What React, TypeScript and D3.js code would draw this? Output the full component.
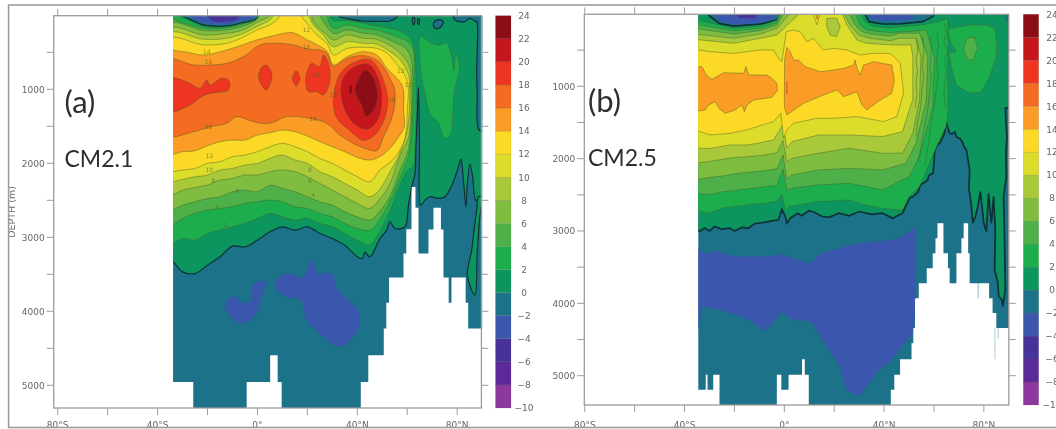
import React from "react";
import * as d3 from "d3";

type Pt = [number, number];

const bandFloors = [-10, -8, -6, -4, -2, 0, 2, 4, 6, 8, 10, 12, 14, 16, 18, 20, 22];
const bandColors = ["#8d389f", "#5c2a98", "#46319a", "#3b57ad", "#1f7389", "#119560", "#1fae4d", "#4eb04a", "#7ebd41", "#a9c93a", "#dcdc2c", "#fbd925", "#fa9c27", "#f36c21", "#ee3524", "#c4161f", "#8c0a18"];
const barLabels = [24, 22, 20, 18, 16, 14, 12, 10, 8, 6, 4, 2, 0, -2, -4, -6, -8, -10];
const latTicks = [-80, -60, -40, -20, 0, 20, 40, 60, 80];
const latLabels: [number, string][] = [[-80, "80°S"], [-40, "40°S"], [0, "0°"], [40, "40°N"], [80, "80°N"]];
const depthTicks = [500, 1000, 1500, 2000, 2500, 3000, 3500, 4000, 4500, 5000];
const depthLabels = [1000, 2000, 3000, 4000, 5000];

/* ---------- panel (a) CM2.1 ---------- */
const aBathyEdges = [-33.8, -25.7, -4.3, 5.1, 8.1, 9.7, 41.4, 44.4, 50.6, 51.6, 52.7, 58.5, 59.6, 61.7, 63.3, 64.5, 68.5, 70.5, 73.5, 74.5, 76.6, 77.7, 83.4, 84.4, 90];
const aBathyDepths = [4955, 5400, 4955, 4595, 4955, 5400, 4955, 4595, 4233, 3886, 3544, 3219, 2890, 2321, 2600, 3219, 2894, 2600, 2894, 3544, 3886, 3544, 3886, 4233];

const aDeep1: Pt[] = [[-12.8, 3890], [-9.5, 3800], [-5.5, 3890], [-2.5, 3850], [-1.8, 3640], [3, 3600], [1.6, 3800], [-0.4, 4030], [-6.6, 4160], [-10.7, 4070], [-12.8, 3960]];
const aDeep2: Pt[] = [[7.2, 3620], [11.3, 3490], [18.2, 3535], [21.6, 3310], [24.4, 3490], [30, 3490], [31.3, 3660], [34.8, 3800], [40.3, 3985], [40.3, 4250], [32.7, 4480], [26.5, 4340], [19.6, 4110], [17.5, 3850], [11.3, 3800], [7.2, 3690]];

const a0Main: Pt[] = [[-36, -60], [92, -60], [92, 2450], [89.5, 2450], [87.5, 2500], [86.2, 2182], [85.1, 2011], [84.1, 2272], [83.5, 2588], [82.5, 2227], [81.5, 1943], [80.5, 2047], [78.2, 2272], [75.1, 2452], [72.5, 2475], [69.1, 2452], [67.1, 2498], [65.4, 2565], [64.9, 1731], [64.5, 973], [64.1, 1280], [63.5, 1731], [63.1, 2137], [61.8, 2317], [60.4, 2588], [59.1, 2858], [55.1, 2881], [53.1, 2791], [51.8, 2903], [49.1, 3016], [45, 3264], [43, 3200], [42, 3290], [40, 3264], [35, 3106], [30, 3016], [25, 2948], [20, 2858], [15, 2903], [10, 2858], [5, 2926], [0, 3038], [-5, 3129], [-10, 3120], [-15, 3264], [-20, 3377], [-25, 3490], [-30, 3467], [-33.8, 3332], [-36, 3300]];
const a0Sliver: Pt[] = [[88.5, 2452], [87.8, 2633], [86.9, 2858], [85.8, 3174], [84.1, 3512], [87.1, 3783], [88, 3219], [88.8, 2813], [89.6, 2452]];
const aTopLeftTeal: Pt[] = [[-31, -60], [-29.7, 8], [-25, 85], [-21.6, 130], [-12.3, 143], [-6, 100], [-0.3, 40], [0, -60]];
const aTopLeftBlue: Pt[] = [[-28.5, -60], [-26, 35], [-21, 105], [-13, 120], [-6, 75], [-1.2, 25], [-0.8, -60]];
const aTopLeftPurple: Pt[] = [[-21, -60], [-18, 75], [-12, 85], [-8, 55], [-7, -60]];
const aTopRightTeal: Pt[] = [[31.3, -60], [33, 20], [36, 45], [43, 80], [49, 80], [52.7, 80], [55.4, 40], [56.8, -60]];
const aTopTick1: Pt[] = [[62.2, 30], [62.9, 30], [62.8, 120], [62.3, 120]];
const aTopTick2: Pt[] = [[64.2, 50], [64.8, 50], [64.7, 120], [64.3, 120]];
const aTopCircle: Pt[] = [[70.5, 110], [72, 62], [74, 70], [74.4, 110], [72.5, 175], [70.8, 165]];
const aTopCorner: Pt[] = [[78.5, -60], [79.1, 62], [83.1, 85], [85.1, 40], [87, 75], [87.8, 85], [88, 500], [87.8, 694], [88, 1055], [88.8, 1550], [92, 1550], [92, -60]];
const a2Patch: Pt[] = [[65.4, 288], [69.8, 378], [73.1, 400], [75.8, 378], [77.8, 558], [78.7, 739], [79.5, 513], [80.9, 694], [78.7, 1055], [78.2, 1370], [77.4, 1596], [75.1, 1663], [72.5, 1460], [69.1, 1325], [67.1, 1055], [65.8, 829]];
const a2: Pt[] = [[-36, 10], [-30, 35], [-25, 105], [-21.6, 150], [-12.3, 155], [-6, 110], [-0.3, 45], [0.5, -60], [27, -60], [30.4, 70], [36, 70], [42.4, 107], [47.8, 143], [55.8, 198], [59.5, 260], [61.8, 350], [63, 500], [63.5, 1000], [63.2, 1730], [62.2, 2047], [60, 2100], [57, 2300], [53, 2650], [50, 2850], [48, 2980], [45, 3106], [40, 3038], [35, 2948], [30, 2858], [25, 2813], [20, 2745], [15, 2768], [10, 2723], [5, 2678], [0, 2745], [-5, 2813], [-10, 2858], [-15, 2903], [-20, 2948], [-25, 3038], [-30, 3016], [-34, 3084], [-36, 3100]];
const a4: Pt[] = [[-36, 60], [-30, 100], [-21.6, 175], [-12.3, 170], [-6, 120], [-0.3, 50], [1.5, -60], [26, -60], [30.4, 175], [36, 130], [42.4, 175], [47.8, 198], [55.8, 288], [60, 350], [62.3, 450], [62.5, 1000], [61.5, 1700], [60.5, 1900], [57, 2200], [53, 2520], [49, 2760], [45, 2903], [40, 2881], [35, 2813], [30, 2723], [25, 2678], [20, 2610], [15, 2588], [10, 2520], [5, 2497], [0, 2520], [-5, 2542], [-10, 2588], [-15, 2610], [-20, 2633], [-25, 2678], [-30, 2745], [-34, 2836], [-36, 2860]];
const a6: Pt[] = [[-36, 125], [-21.6, 206], [-12.3, 198], [-6, 150], [-0.3, 62], [3, -60], [23.5, -60], [26, 60], [30.4, 243], [36, 198], [42.4, 243], [47.8, 265], [55.8, 378], [59.5, 450], [61.6, 600], [62, 1000], [60.5, 1800], [57, 2100], [53, 2450], [49, 2650], [45, 2768], [40, 2723], [35, 2655], [30, 2565], [25, 2520], [20, 2452], [15, 2385], [10, 2339], [5, 2294], [0, 2385], [-5, 2362], [-10, 2385], [-15, 2452], [-20, 2475], [-25, 2520], [-30, 2565], [-34, 2633], [-36, 2650]];
const a8: Pt[] = [[-36, 189], [-21.6, 265], [-12.3, 243], [-6, 200], [-0.3, 98], [5, 10], [7, -60], [21, -60], [22, 60], [24, 160], [27, 240], [30.4, 333], [36, 265], [42.4, 310], [47.8, 324], [55.8, 468], [58.5, 560], [61, 700], [61.5, 1000], [60.5, 1650], [57, 1900], [53, 2280], [49, 2480], [45, 2610], [40, 2542], [35, 2452], [30, 2362], [25, 2272], [20, 2182], [15, 2114], [10, 2091], [5, 2114], [0, 2159], [-5, 2159], [-10, 2204], [-15, 2227], [-20, 2294], [-25, 2326], [-30, 2362], [-34, 2430], [-36, 2450]];
const a10: Pt[] = [[-36, 252], [-21.6, 324], [-12.3, 310], [-6, 250], [-0.3, 153], [5, 62], [8, -60], [19, -60], [22.4, 130], [26.4, 265], [30.4, 423], [36, 355], [42.4, 378], [47.8, 391], [55.8, 558], [58, 640], [60.5, 800], [61, 1000], [60, 1550], [56.5, 1900], [53, 2120], [49, 2350], [45, 2452], [40, 2362], [35, 2272], [30, 2182], [25, 2114], [20, 2001], [15, 1956], [10, 1888], [5, 1934], [0, 2001], [-5, 2024], [-10, 2069], [-15, 2091], [-20, 2159], [-25, 2182], [-30, 2218], [-34, 2249], [-36, 2260]];
const a12: Pt[] = [[-36, 324], [-21.6, 400], [-12.3, 378], [-6, 300], [-0.3, 198], [5, 130], [9, 17], [10, -60], [17, -60], [17.7, 17], [20.4, 130], [23.8, 265], [27.8, 378], [30.4, 536], [36, 446], [42.4, 432], [47.8, 446], [52, 513], [56, 671], [59, 806], [60.4, 964], [60, 1300], [59.8, 1505], [58.4, 1731], [54, 1960], [49, 2092], [45, 2249], [40, 2182], [35, 2091], [30, 2001], [25, 1934], [20, 1843], [15, 1776], [10, 1731], [5, 1776], [0, 1843], [-5, 1888], [-10, 1911], [-15, 1979], [-20, 2001], [-25, 2069], [-30, 2091], [-34, 2114], [-36, 2125]];
const a14: Pt[] = [[-36, 500], [-30, 490], [-21.6, 536], [-12.3, 468], [-6, 400], [-0.3, 333], [6, 279], [14, 234], [20, 333], [24, 400], [28, 491], [30.4, 671], [36, 558], [42.4, 491], [47.8, 536], [51.8, 716], [57, 897], [58.5, 1009], [58.5, 1280], [58.8, 1505], [56.4, 1650], [53, 1800], [49, 1911], [45, 1956], [40, 1920], [35, 1843], [30, 1776], [25, 1708], [20, 1631], [15, 1573], [10, 1550], [5, 1586], [0, 1618], [-5, 1686], [-10, 1686], [-15, 1708], [-20, 1762], [-25, 1830], [-30, 1843], [-36, 1870]];
const a16: Pt[] = [[-36, 603], [-25.6, 671], [-19, 671], [-12.3, 649], [-5.6, 558], [1, 400], [7.7, 378], [14.4, 400], [20.4, 459], [25, 468], [27.8, 513], [30.4, 694], [33.8, 626], [37, 572], [42.4, 545], [47.8, 604], [50.5, 700], [53.5, 880], [55, 1000], [54.8, 1250], [53.5, 1420], [50.5, 1640], [47.8, 1830], [43.8, 1805], [38.4, 1731], [33, 1618], [27.8, 1460], [21, 1393], [11.7, 1370], [5, 1460], [-1.6, 1438], [-8.3, 1370], [-12.3, 1460], [-19, 1506], [-25.6, 1573], [-36, 1618]];
const a18Left: Pt[] = [[-36, 852], [-28.3, 897], [-23, 987], [-20.3, 874], [-19, 942], [-14.3, 852], [-11.4, 883], [-11.6, 1009], [-19, 1055], [-23, 1109], [-27, 1212], [-36, 1303]];
const a18Mid1: Pt[] = [[3.5, 671], [5.7, 784], [5, 942], [3.5, 1009], [1, 897], [0.4, 829], [1.7, 703]];
const a18Mid2: Pt[] = [[15.5, 748], [17, 852], [15.5, 955], [14, 852]];
const a18Mid3: Pt[] = [[21.7, 649], [24.8, 694], [26.4, 536], [28.4, 649], [29.1, 874], [26.4, 1077], [23.8, 1032], [20.4, 1032], [19.3, 874], [20.4, 716]];
const a18Blob: Pt[] = [[30.5, 1235], [31.5, 919], [34.4, 739], [39.8, 620], [45.1, 600], [49, 760], [52, 1080], [51.5, 1330], [47.5, 1600], [42.4, 1690], [37.1, 1560], [32, 1400]];
const a20Blob: Pt[] = [[33.6, 1100], [34.2, 860], [38.4, 705], [44.4, 660], [48, 820], [49.8, 1100], [48, 1420], [43.8, 1540], [37.6, 1425]];
const a22Blob: Pt[] = [[43.1, 739], [46.5, 852], [48, 1100], [46.5, 1280], [43.5, 1361], [41.8, 1212], [39.1, 1032], [40.4, 874]];
const a22Dot: Pt[] = [[37, 950], [37.7, 950], [37.7, 1060], [37, 1060]];
const aLabels: [number, number, string][] = [[-20.3, 504, "14"], [-19.6, 635, "16"], [19.7, 432, "16"], [-19.6, 1515, "16"], [22.4, 1406, "16"], [-19.2, 1911, "12"], [19.7, 198, "12"], [30.4, 1077, "18"], [23.3, 806, "18"], [-19.3, 2091, "10"], [-17.7, 2240, "8"], [-8, 2385, "6"], [-16, 2597, "4"], [-12.8, 2845, "2"], [21, 2091, "8"], [21, 2250, "6"], [22.3, 2430, "4"], [57.4, 761, "12"], [53.8, 1145, "18"], [60.4, 942, "12"]];

/* ---------- panel (b) CM2.5 ---------- */
const bBathyEdges = [-34.5, -31.5, -30.8, -28.5, -26, -3, -1.2, 1.7, 7.1, 8.2, 9.8, 42.7, 44.1, 46.4, 51, 51.7, 52.4, 53.9, 57.1, 59.5, 60.6, 61.4, 63.8, 65.6, 66.3, 69, 71, 71.9, 73.7, 74.3, 82.1, 83.5, 85, 90];
const bBathyDepths = [5194, 4987, 5194, 4987, 5500, 4987, 5194, 4987, 4771, 4987, 5500, 5194, 4987, 4771, 4550, 4342, 3928, 3721, 3514, 3307, 3100, 2892, 3307, 3514, 3721, 3307, 3100, 2892, 3307, 3721, 3928, 4135, 4342];
const bFaintLats: Pt[] = [[66.4, 68.8], [77.5, 77.9], [84.3, 84.6], [85.6, 85.9]];
const bFaintDepths: Pt[] = [[3514, 3721], [3721, 3928], [4342, 4771], [4342, 4480]];

const bDeep: Pt[] = [[-36, 3238], [-34.5, 3238], [-31.9, 3307], [-26.5, 3284], [-21.1, 3353], [-14.4, 3353], [-7.7, 3353], [-0.9, 3330], [3.1, 3376], [9.8, 3445], [15.2, 3307], [21.9, 3238], [30, 3168], [38, 3145], [46.1, 3099], [52.8, 2938], [52.8, 4000], [51.5, 4412], [46.1, 4642], [42.7, 4800], [38, 4918], [34, 5102], [30, 5286], [25, 5194], [21.9, 4849], [15.2, 4504], [11, 4250], [3.1, 4227], [-0.9, 4112], [-7.7, 4389], [-14.4, 4227], [-21.1, 4135], [-26.5, 4089], [-33, 4043], [-34.5, 4366], [-36, 4366]];
const b0Main: Pt[] = [[-36, -60], [92, -60], [92, 1280], [88.6, 1304], [89.2, 1700], [88.8, 1980], [89, 2248], [87.9, 2524], [88.3, 3169], [88.6, 3813], [87.6, 4043], [87.2, 3950], [86, 3905], [85.5, 3700], [84.3, 3537], [84.6, 3000], [83.9, 2524], [83, 2893], [81.9, 2478], [81, 3008], [80, 2893], [78.6, 2455], [77.6, 2660], [76.6, 2800], [75.6, 2893], [75, 2660], [74.4, 2500], [74, 2432], [74.3, 2150], [73, 1880], [72, 1830], [71.4, 1770], [70.3, 1720], [69, 1700], [68.4, 1630], [67.2, 1660], [66.3, 1650], [65.4, 1560], [64.9, 1488], [64.2, 1650], [63.3, 1720], [62.3, 1788], [61.6, 1800], [60.3, 1880], [60, 2060], [59.6, 2200], [58, 2230], [57.4, 2300], [55.6, 2340], [54.6, 2360], [53.6, 2460], [51.6, 2524], [50.4, 2540], [48.9, 2640], [47.4, 2754], [43.4, 2823], [39.4, 2754], [35, 2770], [30, 2731], [26, 2790], [21.9, 2754], [18, 2810], [15.2, 2800], [12, 2740], [9.8, 2720], [7, 2790], [5.4, 2754], [2.5, 2820], [1, 2892], [0.4, 2800], [-1, 2700], [-2.3, 2846], [-5, 2860], [-8, 2880], [-12, 2900], [-14.4, 2960], [-17, 2950], [-20, 3000], [-22, 2960], [-25, 2975], [-28, 2938], [-30, 3000], [-32, 2960], [-34, 3007], [-36, 2938]];
const bTopLeftTeal: Pt[] = [[-32, -60], [-30, 29], [-26, 130], [-20.3, 167], [-9.6, 139], [-3.5, 90], [-1.5, 29], [-1.2, -60]];
const bTopLeftBlue: Pt[] = [[-29.5, -60], [-26, 100], [-20.3, 150], [-9.6, 125], [-4, 65], [-2.5, -60]];
const bTopLeftPurple: Pt[] = [[-20.3, -60], [-18, 60], [-12, 60], [-8, -60]];
const bTopRightTeal: Pt[] = [[31.3, -60], [34, 107], [39.4, 139], [46.1, 139], [55.5, 107], [59.5, 38], [61.6, -60]];
const bTopRightBlue: Pt[] = [[32.7, -60], [34.8, 70], [40.8, 100], [51.5, 85], [52.8, -60]];
const bTopCorner: Pt[] = [[88.5, -60], [89, 107], [92, 107], [92, -60]];
const b2: Pt[] = [[-36, 75], [-20.3, 199], [-9.6, 167], [-3, 84], [-1.6, -60], [29.8, -60], [32.4, 107], [35.1, 167], [42.5, 199], [46.1, 176], [55.5, 153], [61.6, 107], [65.6, 60], [65.6, 590], [65.6, 1373], [64.9, 1550], [62.2, 1741], [58.2, 2064], [54.2, 2386], [50.1, 2524], [47.4, 2708], [44.8, 2708], [39.4, 2685], [32, 2640], [25.9, 2570], [13.8, 2593], [1.7, 2662], [0.5, 2720], [-1, 2500], [-3, 2593], [-8, 2616], [-15, 2639], [-20, 2662], [-25, 2685], [-30, 2754], [-36, 2708]];
const b2Patch: Pt[] = [[65.6, 107], [66.3, 199], [74.3, 153], [81, 153], [84.3, 199], [85.2, 406], [85, 591], [82.3, 867], [79, 1074], [74.3, 1097], [68.9, 982], [66.9, 729], [66, 545], [68.9, 522], [66.9, 406], [65.6, 268]];
const b4Patch: Pt[] = [[72.9, 337], [76.3, 323], [77.6, 475], [75.6, 637], [73.6, 637], [71.9, 498]];
const b4: Pt[] = [[-36, 139], [-20.3, 231], [-9.6, 199], [-3, 121], [-0.6, -60], [27.8, -60], [30.4, 153], [33.1, 222], [42.5, 259], [46.1, 250], [53, 235], [56.9, 222], [60.2, 590], [59.5, 1281], [54.2, 1971], [50.1, 2248], [39.4, 2432], [25.9, 2340], [13.8, 2363], [3.1, 2409], [1, 2440], [-0.5, 2150], [-3, 2370], [-8, 2390], [-15, 2420], [-20, 2440], [-25, 2460], [-30, 2500], [-36, 2478]];
const b6: Pt[] = [[-36, 199], [-20.3, 277], [-9.6, 231], [-3, 153], [0.7, -60], [25.1, -60], [28.4, 153], [31.1, 245], [34.4, 277], [42.5, 305], [46.1, 268], [54.2, 268], [57.5, 590], [56.9, 1189], [52.8, 1787], [48.8, 2064], [39.4, 2156], [25.9, 2133], [13.8, 2156], [3.1, 2225], [1, 2280], [-0.5, 1950], [-3, 2140], [-8, 2165], [-15, 2190], [-20, 2210], [-25, 2240], [-30, 2260], [-36, 2294]];
const b8: Pt[] = [[-36, 277], [-20.3, 337], [-9.6, 277], [-3, 199], [3.7, -60], [23.1, -60], [26.4, 153], [29.8, 291], [34.4, 337], [42.5, 370], [46.1, 337], [52.8, 337], [54.8, 590], [54.2, 1189], [51.5, 1649], [47.4, 1925], [39.4, 1925], [25.9, 1856], [13.8, 1925], [3.1, 1994], [1, 2050], [-0.5, 1750], [-3, 1920], [-8, 1950], [-15, 1975], [-20, 1985], [-25, 2010], [-30, 2040], [-36, 2064]];
const b10: Pt[] = [[-36, 351], [-20.3, 406], [-9.6, 337], [-3, 291], [2, 130], [7.7, -60], [22.4, -60], [25.1, 153], [29.1, 360], [33.1, 406], [42.5, 429], [46.1, 429], [50.8, 429], [51.5, 590], [51.5, 1189], [50.1, 1327], [47.4, 1626], [39.4, 1695], [25.9, 1672], [13.8, 1672], [3.1, 1764], [1, 1850], [-0.5, 1530], [-4.3, 1740], [-11, 1790], [-15, 1810], [-21.7, 1810], [-29.7, 1860], [-36, 1856]];
const b8Patch: Pt[] = [[17, 60], [21, 60], [22.4, 176], [21, 314], [18.4, 291], [17, 176]];
const b12Top: Pt[] = [[11, -60], [13, 150], [15, -60]];
const b14Top: Pt[] = [[12, -60], [13.1, 75], [14.3, -60]];
const b12: Pt[] = [[-36, 489], [-29.7, 522], [-20.3, 545], [-9.6, 498], [-4.3, 498], [-1.9, 637], [-1, 660], [0.1, 406], [0.8, 245], [3.7, 222], [6.4, 245], [9, 383], [11.7, 337], [15.7, 498], [19.8, 475], [25.1, 498], [30.4, 568], [35.8, 545], [42.5, 545], [46.5, 683], [47.8, 1097], [45.1, 1419], [39.8, 1488], [29.1, 1419], [19.8, 1442], [13.1, 1442], [3.7, 1511], [1, 1603], [-0.3, 1718], [-1.4, 1373], [-4.3, 1488], [-11, 1557], [-15, 1603], [-21.7, 1650], [-29.7, 1673], [-36, 1603]];
const b14Left: Pt[] = [[-36, 738], [-33, 729], [-31.3, 844], [-29, 904], [-24.3, 812], [-16.3, 821], [-15.4, 729], [-14.3, 844], [-7, 844], [-5, 890], [-3, 959], [-2.7, 1051], [-5, 1152], [-12.3, 1189], [-15, 1258], [-16, 1350], [-17, 1258], [-19.7, 1327], [-23.7, 1373], [-26.3, 1304], [-27.7, 1212], [-30.4, 1258], [-31.7, 1327], [-36, 1350]];
const b14Right: Pt[] = [[0.1, 637], [1, 462], [2.4, 522], [3.7, 637], [5.7, 637], [8.4, 729], [14.4, 798], [19.8, 775], [23.8, 752], [27.8, 706], [28.4, 637], [29.1, 752], [30.4, 844], [31.8, 706], [35.8, 660], [39.1, 683], [43.1, 706], [44.1, 913], [43.1, 1097], [38.5, 1189], [33.1, 1327], [31.1, 1258], [29.1, 1074], [25.8, 1120], [23.8, 1143], [21.1, 1051], [15.7, 1120], [7.7, 1235], [1, 1396], [0, 1281]];
const b16Dot: Pt[] = [[0.6, 930], [1.4, 930], [1.4, 1110], [0.6, 1110]];
const bLabels: [number, number, string][] = [];

const toothLines: Pt[][] = [
  [[53, 340], [53.5, 500], [52.8, 640], [53.4, 800], [52.8, 960], [53.2, 1100], [52.5, 1300]],
  [[55.4, 320], [56, 520], [55.3, 700], [55.9, 880], [55.2, 1060], [54.6, 1300], [53.4, 1500], [52.8, 1700]],
  [[58.6, 320], [59, 500], [58.4, 720], [59, 900], [58.2, 1120], [57.4, 1360], [56.2, 1560], [55, 1800], [53.6, 2050]],
  [[61.2, 240], [61.8, 440], [61, 640], [61.7, 860], [60.8, 1080], [60, 1300], [58.8, 1550], [57.8, 1800], [56.4, 2100]],
  [[64, 120], [65.2, 260], [63.8, 400], [65.6, 500], [64.4, 620], [65, 820], [64, 1080], [64.6, 1320]],
];

type Layer = { ring: Pt[]; floor: number; strong?: boolean; dash?: boolean; none?: boolean };

const aLayers: Layer[] = [
  { ring: aDeep1, floor: -4, dash: true }, { ring: aDeep2, floor: -4, dash: true },
  { ring: a0Main, floor: 0, strong: true }, { ring: a0Sliver, floor: 0, strong: true },
  { ring: aTopLeftTeal, floor: -2, strong: true }, { ring: aTopLeftBlue, floor: -4, none: true }, { ring: aTopLeftPurple, floor: -6, none: true },
  { ring: aTopRightTeal, floor: -2, strong: true }, { ring: aTopTick1, floor: -2, strong: true }, { ring: aTopTick2, floor: -2, strong: true },
  { ring: aTopCircle, floor: -2, strong: true }, { ring: aTopCorner, floor: -2, strong: true },
  { ring: a2Patch, floor: 2 }, { ring: a2, floor: 2 }, { ring: a4, floor: 4 }, { ring: a6, floor: 6 }, { ring: a8, floor: 8 },
  { ring: a10, floor: 10 }, { ring: a12, floor: 12 }, { ring: a14, floor: 14 }, { ring: a16, floor: 16 },
  { ring: a18Left, floor: 18 }, { ring: a18Mid1, floor: 18 }, { ring: a18Mid2, floor: 18 }, { ring: a18Mid3, floor: 18 }, { ring: a18Blob, floor: 18 },
  { ring: a20Blob, floor: 20 }, { ring: a22Blob, floor: 22 }, { ring: a22Dot, floor: 22, none: true },
];

const bLayers: Layer[] = [
  { ring: bDeep, floor: -4, dash: true },
  { ring: b0Main, floor: 0, strong: true },
  { ring: bTopLeftTeal, floor: -2, strong: true }, { ring: bTopLeftBlue, floor: -4, none: true }, { ring: bTopLeftPurple, floor: -6, none: true },
  { ring: bTopRightTeal, floor: -2, strong: true }, { ring: bTopRightBlue, floor: -4, none: true }, { ring: bTopCorner, floor: -2 },
  { ring: b2Patch, floor: 2 }, { ring: b4Patch, floor: 4 }, { ring: b2, floor: 2 }, { ring: b4, floor: 4 }, { ring: b6, floor: 6 }, { ring: b8, floor: 8 },
  { ring: b10, floor: 10 }, { ring: b8Patch, floor: 8 }, { ring: b12, floor: 12 }, { ring: b12Top, floor: 12 }, { ring: b14Top, floor: 14 }, { ring: b14Left, floor: 14 }, { ring: b14Right, floor: 14 },
  { ring: b16Dot, floor: 16, none: true },
];

const colorOf = d3.scaleOrdinal<number, string>().domain(bandFloors).range(bandColors);
const GREY = "#9c9c9c";
const TXT = "#666666";
const SANS = "'DejaVu Sans', sans-serif";
const TITLE = "Lato, 'Open Sans', sans-serif";

type PanelProps = {
  id: string; latDomain: [number, number]; xRange: [number, number]; depthDomain: [number, number]; yRange: [number, number];
  edges: number[]; depths: number[]; layers: Layer[]; labels: [number, number, string][]; smooth: boolean; teeth?: Pt[][];
  faintLats?: Pt[]; faintDepths?: Pt[]; lineW: number;
  tag: string; model: string; tagX: number; tagY: number; modelY: number; barX: number; barW: number; barLabelX: number;
};

function Panel(p: PanelProps) {
  const x = d3.scaleLinear().domain(p.latDomain).range(p.xRange);
  const y = d3.scaleLinear().domain(p.depthDomain).range(p.yRange);
  const bar = d3.scaleLinear().domain([-10, 24]).range([p.yRange[1], p.yRange[0]]);
  const ringPath = d3.line<Pt>().x((d) => x(d[0])).y((d) => y(d[1]))
    .curve(p.smooth ? d3.curveCatmullRomClosed.alpha(0.5) : d3.curveLinearClosed);
  const openPath = d3.line<Pt>().x((d) => x(d[0])).y((d) => y(d[1]));
  const ocean: Pt[] = [[p.edges[0], p.depthDomain[0]], [p.edges[p.edges.length - 1], p.depthDomain[0]]];
  for (let i = p.depths.length - 1; i >= 0; i--) {
    const dep = Math.min(p.depths[i], p.depthDomain[1]);
    ocean.push([p.edges[i + 1], dep], [p.edges[i], dep]);
  }
  const oceanPath = d3.line<Pt>().x((d) => x(d[0])).y((d) => y(d[1])).curve(d3.curveLinearClosed)(ocean) || "";
  const [x0, x1] = p.xRange;
  const [y0, y1] = p.yRange;
  return (
    <g>
      <defs>
        <clipPath id={`ocean-${p.id}`}><path d={oceanPath} /></clipPath>
      </defs>
      <path d={oceanPath} fill={colorOf(-2)} />
      {(p.faintLats || []).map((la, i) => (
        <rect key={i} x={x(la[0])} width={x(la[1]) - x(la[0])} y={y(p.faintDepths![i][0])} height={y(p.faintDepths![i][1]) - y(p.faintDepths![i][0])} fill={colorOf(-2)} fillOpacity={0.5} />
      ))}
      <g clipPath={`url(#ocean-${p.id})`}>
        {p.layers.map((l, i) => (
          <path key={i} d={ringPath(l.ring) || ""} fill={colorOf(l.floor)}
            stroke={l.none ? "none" : l.strong ? "#082c30" : l.dash ? "#33559a" : "#3f5a25"}
            strokeOpacity={l.strong ? 0.95 : 0.6} strokeWidth={l.strong ? p.lineW : 0.7}
            strokeDasharray={l.dash ? "1.5 1.5" : undefined} />
        ))}
        {(p.teeth || []).map((t, i) => (
          <path key={i} d={openPath(t) || ""} fill="none" stroke="#2f5a28" strokeOpacity={0.55} strokeWidth={0.8} />
        ))}
        {p.labels.map(([la, de, s], i) => (
          <text key={i} x={x(la)} y={y(de)} fontFamily={SANS} fontSize={6} fill="#4a5a20" fillOpacity={0.6}
            textAnchor="middle" dominantBaseline="middle">{s}</text>
        ))}
      </g>
      <rect x={x0} y={y0} width={x1 - x0} height={y1 - y0} fill="none" stroke={GREY} strokeWidth={1.3} />
      {latTicks.map((t) => (
        <g key={t} stroke={GREY} strokeWidth={1}>
          <line x1={x(t)} x2={x(t)} y1={y0} y2={y0 - 7} />
          <line x1={x(t)} x2={x(t)} y1={y1} y2={y1 + 7} />
        </g>
      ))}
      {depthTicks.map((t) => (
        <g key={t} stroke={GREY} strokeWidth={1}>
          <line x1={x0} x2={x0 - 7} y1={y(t)} y2={y(t)} />
          <line x1={x1} x2={x1 + 7} y1={y(t)} y2={y(t)} />
        </g>
      ))}
      {latLabels.map(([t, s]) => (
        <text key={t} x={x(t)} y={427.5} textAnchor="middle" fontFamily={SANS} fontSize={9} fill={TXT}>{s}</text>
      ))}
      {depthLabels.map((t) => (
        <text key={t} x={x0 - 9} y={y(t) + 3.3} textAnchor="end" fontFamily={SANS} fontSize={9} fill={TXT}>{t}</text>
      ))}
      {bandFloors.map((f) => (
        <rect key={f} x={p.barX} width={p.barW} y={bar(f + 2)} height={bar(f) - bar(f + 2)} fill={colorOf(f)} stroke="#4d4d2f" strokeOpacity={0.22} strokeWidth={0.6} />
      ))}
      {barLabels.map((t) => (
        <text key={t} x={p.barLabelX} y={bar(t) + 3.3} textAnchor="middle" fontFamily={SANS} fontSize={9} fill={TXT}>{t < 0 ? `\u2212${-t}` : t}</text>
      ))}
      <text x={p.tagX} y={p.tagY} fontFamily={TITLE} fontSize={31} fill="#2e2e2e">{p.tag}</text>
      <text x={p.tagX} y={p.modelY} fontFamily={TITLE} fontSize={23} fill="#2e2e2e">{p.model}</text>
    </g>
  );
}

export default function App() {
  return (
    <svg width={1056} height={429} viewBox="0 0 1056 429" style={{ position: "absolute", left: 0, top: 0, display: "block", background: "#fff" }}>
      <defs>
        <clipPath id="frame-clip"><rect x={8.6} y={5} width={1048} height={423} /></clipPath>
        <filter id="soft" x="0" y="0" width="100%" height="100%"><feGaussianBlur stdDeviation={0.45} /></filter>
      </defs>
      <g filter="url(#soft)">
        <g clipPath="url(#frame-clip)">
          <text transform="translate(15,212) rotate(-90)" textAnchor="middle" fontFamily={SANS} fontSize={9.5} fill={TXT}>DEPTH (m)</text>
        </g>
        <Panel id="a" latDomain={[-81.6, 89.7]} xRange={[53.7, 481.4]} depthDomain={[5, 5307]} yRange={[15.7, 408]}
          edges={aBathyEdges} depths={aBathyDepths} layers={aLayers} labels={aLabels} smooth lineW={1.2}
          tag="(a)" model="CM2.1" tagX={64.5} tagY={113} modelY={167} barX={495.5} barW={15.5} barLabelX={524} />
        <Panel id="b" latDomain={[-80.2, 90]} xRange={[584.3, 1008.8]} depthDomain={[5, 5405]} yRange={[14.3, 405]}
          edges={bBathyEdges} depths={bBathyDepths} layers={bLayers} labels={bLabels} smooth={false} teeth={toothLines} lineW={1.7}
          faintLats={bFaintLats} faintDepths={bFaintDepths}
          tag="(b)" model="CM2.5" tagX={588} tagY={112} modelY={166} barX={1023.3} barW={15.4} barLabelX={1052} />
        <rect x={8.6} y={5} width={1060} height={422.5} fill="none" stroke={GREY} strokeWidth={1.6} />
      </g>
    </svg>
  );
}
